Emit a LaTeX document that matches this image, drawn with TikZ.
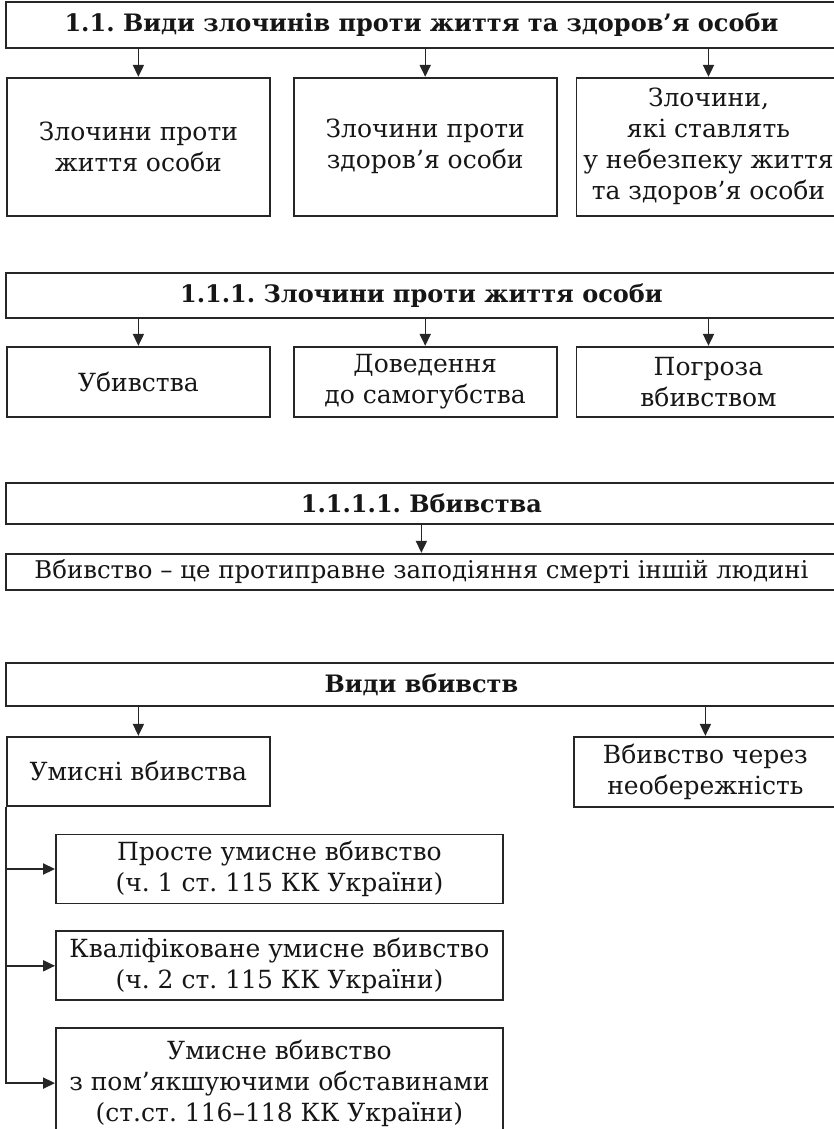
\documentclass[tikz,border=0pt]{standalone}
\usepackage{fontspec}
\setmainfont{DejaVu Serif}
\usepackage{tikz}
\usetikzlibrary{
  arrows.meta,
  positioning
}
\definecolor{FigText}{HTML}{161616}
\definecolor{FigLine}{HTML}{262626}
\frenchspacing

\begin{document}
\begin{tikzpicture}[
x=0.5pt, y=-0.5pt,
font=\fontsize{12.5}{15.5}\selectfont,
>={Triangle[length=6pt,width=5.6pt]},
titlebox/.style={
draw=FigLine,
line width=0.9pt,
minimum width=415.5pt,
inner sep=2pt,
anchor=north west,
font=\fontsize{12}{15.5}\selectfont\bfseries
},
defbox/.style={
draw=FigLine,
line width=0.9pt,
minimum width=415.5pt,
inner sep=1pt,
font=\fontsize{12.2}{15.5}\selectfont
},
itembox/.style={
draw=FigLine,
line width=0.9pt,
minimum width=131.5pt,
inner sep=0.5pt,
align=center
},
subbox/.style={
draw=FigLine,
line width=0.9pt,
minimum width=223.5pt,
minimum height=34.5pt,
inner sep=1pt,
align=center
},
link/.style={draw=FigLine, line width=0.7pt, ->},
every node/.style={text=FigText}
]
\useasboundingbox (0,0) rectangle (834,1129);
\clip (0,0) rectangle (834,1129);

% 1.1 - three kinds of crimes
\node[titlebox, minimum height=23pt] (t1) at (5,1) {1.1. Види злочинів проти життя та здоров’я особи};
\node[itembox, minimum height=69pt, below right=14pt and 0.5pt of t1.south west] (a1) {Злочини проти\\життя особи};
\node[itembox, minimum height=69pt, right=11pt of a1] (b1) {Злочини проти\\здоров’я особи};
\node[itembox, minimum height=69pt, minimum width=132pt, right=9pt of b1] (c1) {Злочини,\\які ставлять\\у небезпеку життя\\та здоров’я особи};
\draw[link] (t1.south -| a1.north) -- (a1.north);
\draw[link] (t1.south -| b1.north) -- (b1.north);
\draw[link] (t1.south -| c1.north) -- (c1.north);

% 1.1.1 - crimes against life
\node[titlebox, minimum height=22.5pt] (t2) at (5,272) {1.1.1. Злочини проти життя особи};
\node[itembox, minimum height=35pt, below right=13.5pt and 0.5pt of t2.south west] (a2) {Убивства};
\node[itembox, minimum height=35pt, right=11pt of a2] (b2) {Доведення\\до самогубства};
\node[itembox, minimum height=35pt, minimum width=132pt, right=9pt of b2] (c2) {Погроза\\вбивством};
\draw[link] (t2.south -| a2.north) -- (a2.north);
\draw[link] (t2.south -| b2.north) -- (b2.north);
\draw[link] (t2.south -| c2.north) -- (c2.north);

% 1.1.1.1 - definition
\node[titlebox, minimum height=20.5pt] (t3) at (5,482) {1.1.1.1. Вбивства};
\node[defbox, minimum height=18pt, below=14pt of t3] (d3) {Вбивство – це протиправне заподіяння смерті іншій людині};
\draw[link] (t3) -- (d3);

% kinds of murder
\node[titlebox, minimum height=21.5pt] (t4) at (5,662) {Види вбивств};
\node[itembox, minimum height=34.5pt, below right=14.5pt and 0.5pt of t4.south west] (u4) {Умисні вбивства};
\node[itembox, minimum height=35pt, below left=14.5pt and 0pt of t4.south east] (n4) {Вбивство через\\необережність};
\draw[link] (t4.south -| u4.north) -- (u4.north);
\draw[link] (t4.south -| n4.north) -- (n4.north);

\node[subbox, below right=13.5pt and 24.5pt of u4.south west] (s1) {Просте умисне вбивство\\(ч. 1 ст. 115 КК України)};
\node[subbox, below=13pt of s1] (s2) {Кваліфіковане умисне вбивство\\(ч. 2 ст. 115 КК України)};
\node[subbox, minimum height=55pt, below=13pt of s2] (s3) {Умисне вбивство\\з пом’якшуючими обставинами\\(ст.ст. 116–118 КК України)};
\draw[link] (u4.south west) |- (s3.west);
\draw[link] (u4.west |- s1.west) -- (s1.west);
\draw[link] (u4.west |- s2.west) -- (s2.west);

\end{tikzpicture}
\end{document}
